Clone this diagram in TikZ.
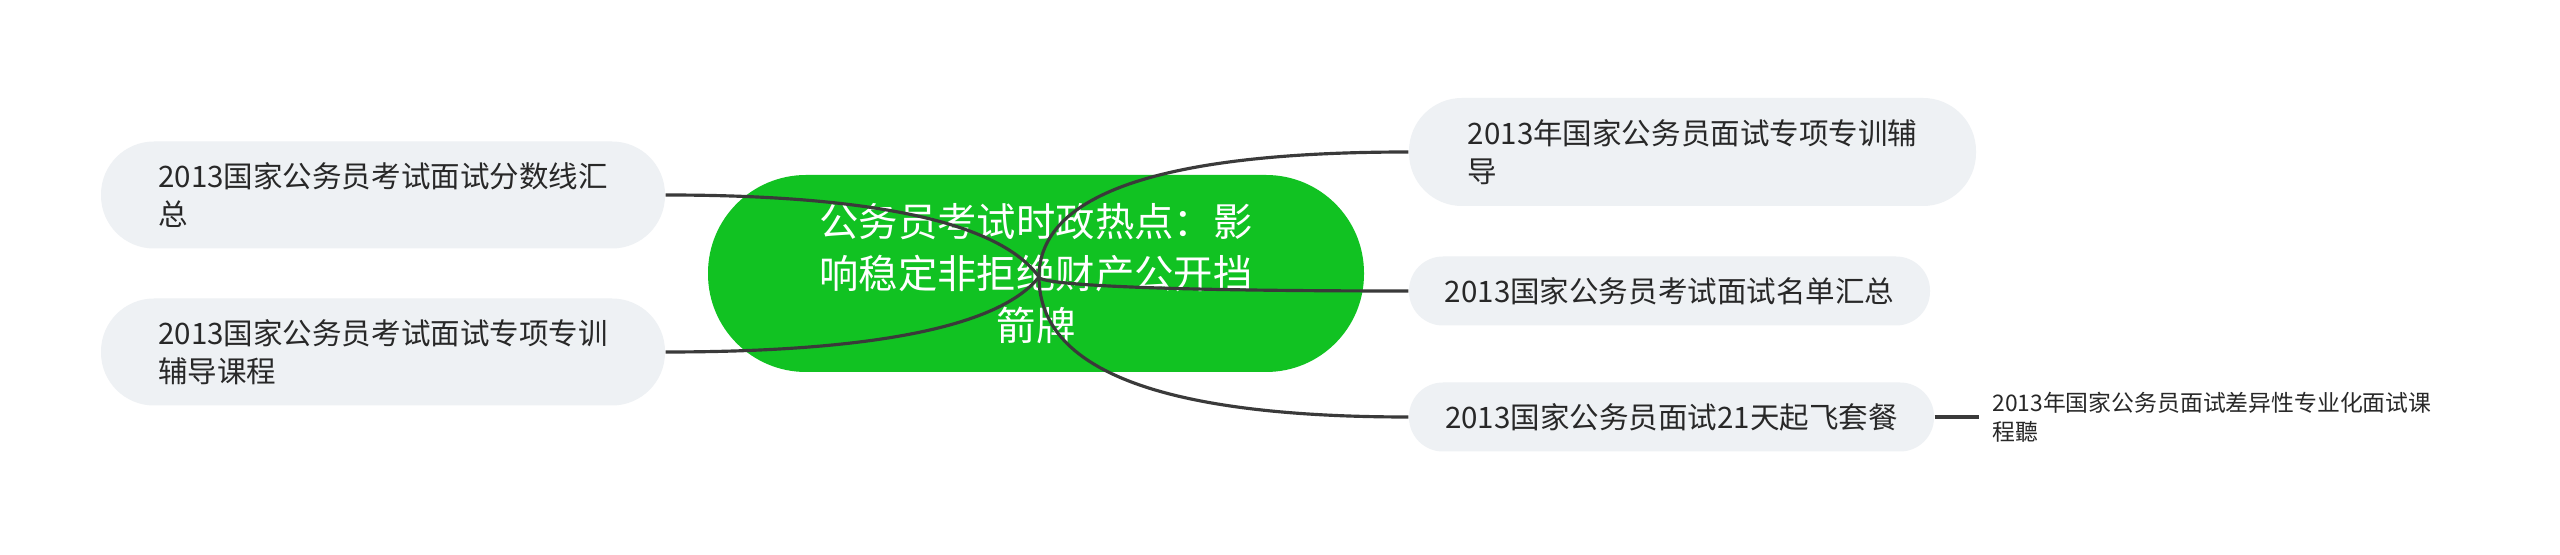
\documentclass[tikz,border=0pt]{standalone}
\usepackage{fontspec}
\newfontfamily\cjk{Noto Sans CJK SC}
\usetikzlibrary{positioning}

\definecolor{rootgreen}{RGB}{17,194,34}
\definecolor{leafgray}{RGB}{238,241,244}
\definecolor{linkgray}{RGB}{58,58,58}
\definecolor{textgray}{RGB}{40,40,40}

\tikzset{
    rootbox/.style={fill=rootgreen, rounded corners=0.98cm, minimum width=6.56cm, minimum height=1.97cm,
        text=white, align=center, font=\cjk\fontsize{11.2}{14.8}\selectfont},
    leafbox/.style={fill=leafgray, text=textgray, align=left, inner sep=0pt,
        font=\cjk\fontsize{8.4}{11}\selectfont},
    tallleaf/.style={leafbox, minimum height=1.07cm, rounded corners=0.53cm},
    flatleaf/.style={leafbox, minimum height=0.69cm, rounded corners=0.34cm},
    subleaf/.style={text=textgray, align=left, inner xsep=0.13cm, font=\cjk\fontsize{6.5}{8.3}\selectfont},
    link/.style={draw=linkgray, line width=0.9pt}
}

\begin{document}
\begin{tikzpicture}
                    \useasboundingbox[fill=white] (0,0) rectangle (25.6,-5.55);

                    \node[rootbox] (root) at (10.36,-2.735) {公务员考试时政热点：影\\响稳定非拒绝财产公开挡\\箭牌};
                    \coordinate (hub) at (10.39,-2.77);

                    \node[tallleaf, minimum width=5.64cm] (l1) at (3.83,-1.95) {2013国家公务员考试面试分数线汇\\总};
                    \node[tallleaf, minimum width=5.64cm] (l2) at (3.83,-3.52) {2013国家公务员考试面试专项专训\\辅导课程};

                    \node[tallleaf, minimum width=5.67cm, minimum height=1.08cm] (r1) at (16.925,-1.52) {2013年国家公务员面试专项专训辅\\导};
                    \node[flatleaf, minimum width=5.21cm] (r2) at (16.695,-2.91) {2013国家公务员考试面试名单汇总};
                    \node[flatleaf, minimum width=5.25cm] (r3) at (16.715,-4.17) {2013国家公务员面试21天起飞套餐};
                    \node[subleaf, right=0.44cm of r3] (sub) {2013年国家公务员面试差异性专业化面试课\\程聽};

                    \draw[link] (hub) .. controls +(-0.39,0.54) and +(2.10,0) .. (l1.east);
                    \draw[link] (hub) .. controls +(-0.39,-0.49) and +(2.10,0) .. (l2.east);
                    \draw[link] (hub) .. controls +(0,0.83) and +(-2.47,0) .. (r1.west);
                    \draw[link] (hub) .. controls +(0,-0.08) and +(-2.47,0) .. (r2.west);
                    \draw[link] (hub) .. controls +(0,-0.93) and +(-2.47,0) .. (r3.west);
                    \draw[link] (r3.east) -- (sub.west);
                \end{tikzpicture}
\end{document}
